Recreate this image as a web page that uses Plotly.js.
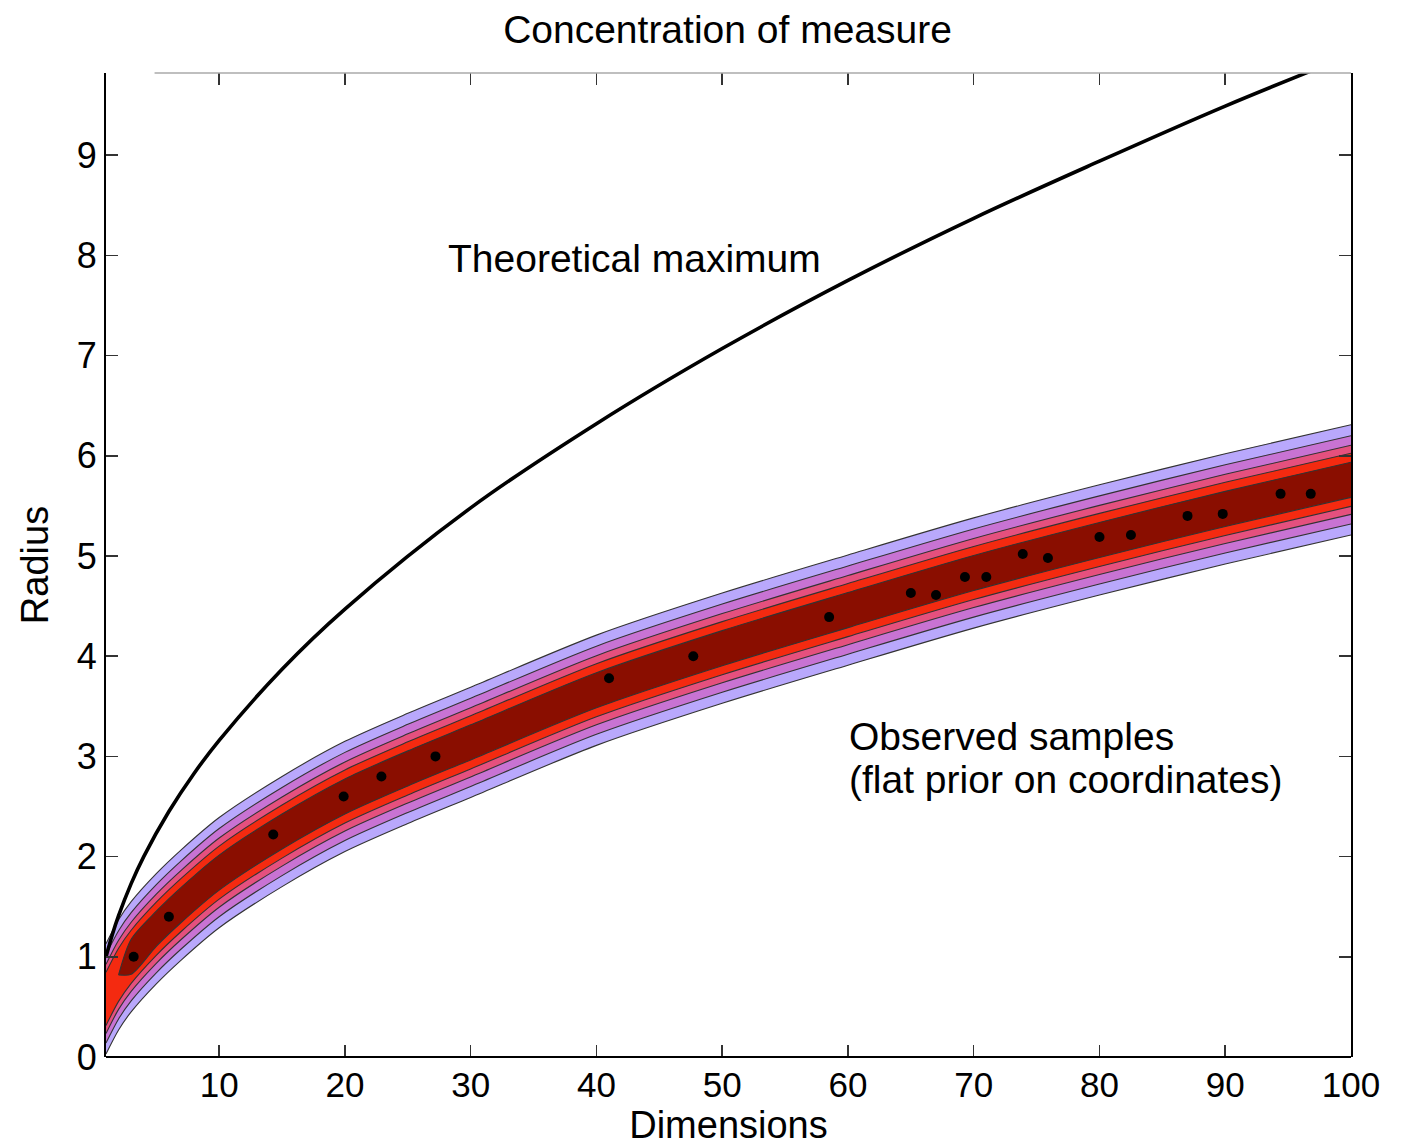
<!DOCTYPE html>
<html>
<head>
<meta charset="utf-8">
<script src="https://cdn.plot.ly/plotly-3.0.1.min.js"></script>
<style>html,body{margin:0;padding:0;background:#fff;}#chart{width:1411px;height:1147px;}</style>
</head>
<body>
<div id="chart"></div>
<script>
// ---- data ----
const sampleDims    = [1, 2, 3, 5, 7, 10, 15, 20, 25, 30, 40, 50, 60, 70, 80, 90, 100];
const sampleCenter  = [0.58, 0.82, 1.0, 1.28, 1.52, 1.84, 2.25, 2.6, 2.88, 3.14, 3.66, 4.08, 4.46, 4.83, 5.16, 5.47, 5.76];
// half-width of each filled contour level, outermost first
const levelHalfWidth = [0.55, 0.44, 0.345, 0.265, 0.175];
const levelStartDim  = [1, 1, 1, 1, 2];
const levelColors    = ['#b9a8fc', '#c873d3', '#e5507e', '#f42a10', '#8a0e00'];

const maxDims   = [1, 1.5, 2, 3, 4, 6, 8, 10, 15, 20, 30, 40, 50, 60, 70, 80, 90, 100];
const maxRadius = [1.0, 1.22, 1.41, 1.73, 2.0, 2.45, 2.83, 3.16, 3.87, 4.47, 5.48, 6.32, 7.07, 7.75, 8.37, 8.94, 9.49, 10.0];

const spotDims   = [3.2, 6.0, 14.3, 19.9, 22.9, 27.2, 41, 47.7, 58.5, 65, 67, 69.3, 71, 73.9, 75.9, 80, 82.5, 87, 89.8, 94.4, 96.8];
const spotRadius = [1.0, 1.40, 2.22, 2.6, 2.8, 3.0, 3.78, 4.0, 4.39, 4.63, 4.61, 4.79, 4.79, 5.02, 4.98, 5.19, 5.21, 5.4, 5.42, 5.62, 5.62];

const titleText = 'Concentration of measure';
const xTitle = 'Dimensions';
const yTitle = 'Radius';
const xTicks = [10, 20, 30, 40, 50, 60, 70, 80, 90, 100];
const yTicks = [0, 1, 2, 3, 4, 5, 6, 7, 8, 9];

// ---- build traces ----
const traces = [];
levelHalfWidth.forEach((hw, k) => {
  const xs = [], lo = [], hi = [];
  sampleDims.forEach((d, i) => {
    if (d < levelStartDim[k]) return;
    const w = (levelStartDim[k] > 1 && d === levelStartDim[k]) ? 0 : hw; // taper where a level begins
    xs.push(d);
    lo.push(Math.max(0, sampleCenter[i] - w));
    hi.push(sampleCenter[i] + w);
  });
  traces.push({x: xs, y: lo, type: 'scatter', mode: 'lines',
    line: {color: '#333', width: 1.1, shape: 'spline', smoothing: 0.8},
    hoverinfo: 'skip', showlegend: false});
  traces.push({x: xs, y: hi, type: 'scatter', mode: 'lines', fill: 'tonexty',
    fillcolor: levelColors[k],
    line: {color: '#333', width: 1.1, shape: 'spline', smoothing: 0.8},
    hoverinfo: 'skip', showlegend: false});
});
traces.push({x: spotDims, y: spotRadius, type: 'scatter', mode: 'markers',
  marker: {color: '#000', size: 10, symbol: 'circle'}, hoverinfo: 'skip', showlegend: false});
traces.push({x: maxDims, y: maxRadius, type: 'scatter', mode: 'lines',
  line: {color: '#000', width: 3.6, shape: 'spline', smoothing: 1},
  showlegend: false});

const fam = 'Liberation Sans, Arial, Helvetica, sans-serif';
const font = {family: fam, size: 39, color: '#000'};

const layout = {
  width: 1411, height: 1147,
  margin: {l: 106, r: 60, t: 73, b: 90},
  paper_bgcolor: '#fff', plot_bgcolor: '#fff',
  font: font,
  showlegend: false,
  title: {text: titleText, font: {family: fam, size: 39, color: '#000'},
          x: 0.5156, xanchor: 'center', y: 0.974, yanchor: 'middle'},
  xaxis: {
    range: [1, 100], tickvals: xTicks, ticktext: xTicks.map(String),
    ticks: 'inside', ticklen: 12, tickwidth: 1.5, tickcolor: '#333',
    showline: false, mirror: 'ticks', zeroline: false, showgrid: false,
    ticklabelstandoff: 4,
    tickfont: {family: fam, size: 35, color: '#000'},
    title: {text: xTitle, font: {family: fam, size: 38, color: '#000'}, standoff: 8}
  },
  yaxis: {
    range: [0, 9.82], tickvals: yTicks, ticktext: yTicks.map(String),
    ticks: 'inside', ticklen: 12, tickwidth: 1.5, tickcolor: '#333',
    showline: true, linecolor: '#000', linewidth: 2, mirror: 'ticks',
    zeroline: false, showgrid: false,
    tickfont: {family: fam, size: 36, color: '#000'},
    title: {text: yTitle, font: {family: fam, size: 38, color: '#000'}, standoff: 16}
  },
  shapes: [
    {type: 'line', xref: 'paper', yref: 'paper', x0: 0, x1: 1, y0: 0, y1: 0,
     line: {color: '#000', width: 2}},
    {type: 'line', xref: 'paper', yref: 'paper', x0: 0.039, x1: 1, y0: 1, y1: 1,
     line: {color: '#aaa', width: 1.5}}
  ],
  annotations: [
    {text: 'Theoretical maximum', x: 28.0, y: 7.97, xref: 'x', yref: 'y',
     xanchor: 'left', yanchor: 'middle', showarrow: false, font: font},
    {text: 'Observed samples', x: 59.9, y: 3.2, xref: 'x', yref: 'y',
     xanchor: 'left', yanchor: 'middle', showarrow: false, font: font},
    {text: '(flat prior on coordinates)', x: 59.9, y: 2.77, xref: 'x', yref: 'y',
     xanchor: 'left', yanchor: 'middle', showarrow: false, font: font}
  ]
};

Plotly.newPlot('chart', traces, layout, {displayModeBar: false, staticPlot: true});
</script>
</body>
</html>
